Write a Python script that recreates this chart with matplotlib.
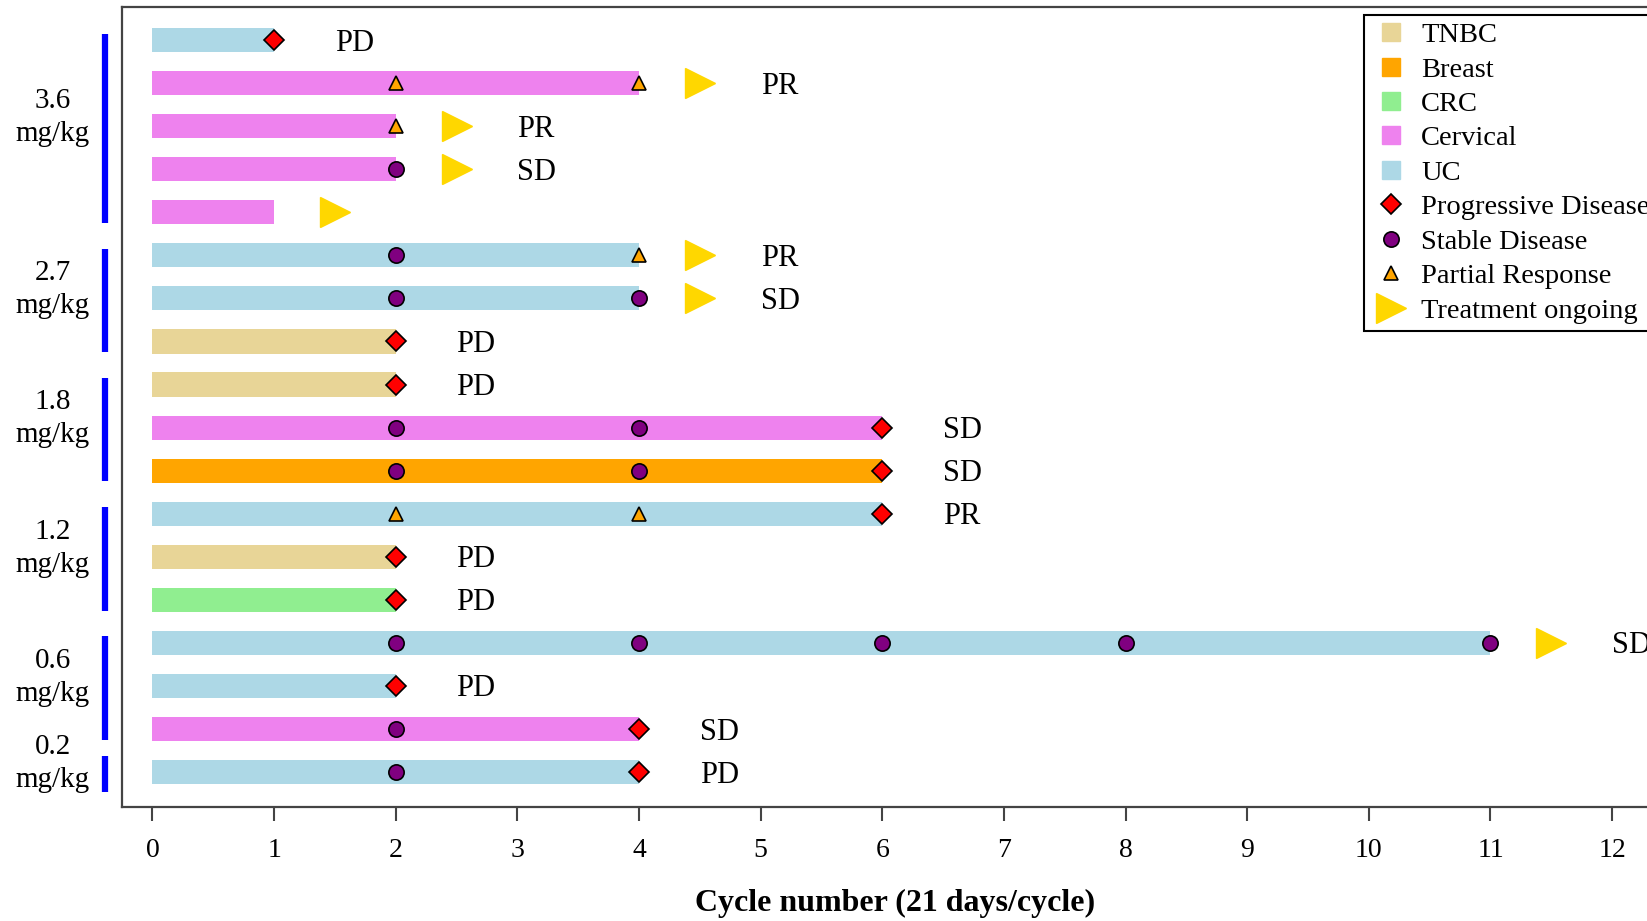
import matplotlib
matplotlib.use("Agg")
import matplotlib.pyplot as plt
from matplotlib.lines import Line2D

plt.rcParams['font.family'] = ['Liberation Serif', 'DejaVu Serif']

# one row per patient, top to bottom
cancer = ['UC', 'Cervical', 'Cervical', 'Cervical', 'Cervical', 'UC', 'UC', 'TNBC', 'TNBC',
          'Cervical', 'Breast', 'UC', 'TNBC', 'CRC', 'UC', 'UC', 'Cervical', 'UC']
cycles = [1, 4, 2, 2, 1, 4, 4, 2, 2, 6, 6, 6, 2, 2, 11, 2, 4, 4]
pd_at = [[1], [], [], [], [], [], [], [2], [2], [6], [6], [6], [2], [2], [], [2], [4], [4]]
sd_at = [[], [], [], [2], [], [2], [2, 4], [], [], [2, 4], [2, 4], [], [], [],
         [2, 4, 6, 8, 11], [], [2], [2]]
pr_at = [[], [2, 4], [2], [], [], [4], [], [], [], [], [], [2, 4], [], [], [], [], [], []]
ongoing = [False, True, True, True, True, True, True, False, False, False, False, False,
           False, False, True, False, False, False]
best = ['PD', 'PR', 'PR', 'SD', '', 'PR', 'SD', 'PD', 'PD', 'SD', 'SD', 'PR', 'PD', 'PD',
        'SD', 'PD', 'SD', 'PD']

dose_labels = ['3.6', '2.7', '1.8', '1.2', '0.6', '0.2']
dose_sizes = [5, 3, 3, 3, 3, 1]

cancer_types = ['TNBC', 'Breast', 'CRC', 'Cervical', 'UC']
cancer_colors = {'TNBC': '#E8D597', 'Breast': '#FFA500', 'CRC': '#90EE90',
                 'Cervical': '#EE82EE', 'UC': '#ADD8E6'}

fig = plt.figure(figsize=(16.47, 9.21), dpi=100)
ax = fig.add_axes([0.0741, 0.1238, 0.9387, 0.8686])

rows = list(range(1, len(cycles) + 1))
ax.barh(rows, cycles, left=0, height=0.56,
        color=[cancer_colors[c] for c in cancer], zorder=2)

for r, end in zip(rows, cycles):
    i = r - 1
    for x in sd_at[i]:
        ax.plot(x, r, 'o', ms=11, mfc='#800080', mec='black', mew=1.2, zorder=4)
    for x in pr_at[i]:
        ax.plot(x, r, '^', ms=10, mfc='#FFA500', mec='black', mew=1.2, zorder=4)
    for x in pd_at[i]:
        ax.plot(x, r, 'D', ms=10, mfc='red', mec='black', mew=1.2, zorder=5)
    if ongoing[i]:
        ax.plot(end + 0.5, r, '>', ms=22, mfc='#FFD700', mec='#FFD700', zorder=4)
        tx = end + 1.0
    else:
        tx = end + 0.5
    if best[i]:
        ax.text(tx, r + 0.07, best[i], fontsize=22, ha='left', va='center')

# dose level brackets on the left
start = 1
for lab, n in zip(dose_labels, dose_sizes):
    stop = start + n - 1
    mid = (start + stop) / 2
    half = max((n - 1) / 2 + 0.2, 0.42)
    ax.plot([-0.39, -0.39], [mid - half + 0.05, mid + half + 0.05], color='blue', lw=4.5,
            solid_capstyle='butt', clip_on=False)
    ax.text(-0.82, mid - 0.2, lab + '\nmg/kg', fontsize=21, ha='center', va='center',
            linespacing=1.35)
    start = stop + 1

ax.set_xlim(-0.25, 12.46)
ax.set_ylim(18.81, 0.234)
ax.set_xticks(range(0, 13))
ax.set_yticks([])
ax.tick_params(axis='x', labelsize=20, length=10, width=1.5, color='#444444', pad=12)
for s in ax.spines.values():
    s.set_color('#444444')
    s.set_linewidth(1.6)
ax.set_xlabel('Cycle number (21 days/cycle)', fontsize=23, fontweight='bold', labelpad=19)

handles = [Line2D([], [], ls='none', marker='s', ms=13, mfc=cancer_colors[c],
                  mec=cancer_colors[c]) for c in cancer_types]
handles += [
    Line2D([], [], ls='none', marker='D', ms=10, mfc='red', mec='black', mew=1.2),
    Line2D([], [], ls='none', marker='o', ms=11, mfc='#800080', mec='black', mew=1.2),
    Line2D([], [], ls='none', marker='^', ms=10, mfc='#FFA500', mec='black', mew=1.2),
    Line2D([], [], ls='none', marker='>', ms=22, mfc='#FFD700', mec='#FFD700'),
]
labels = cancer_types + ['Progressive Disease', 'Stable Disease', 'Partial Response',
                         'Treatment ongoing']
leg = ax.legend(handles, labels, loc='upper left', bbox_to_anchor=(0.8034, 0.99),
                borderaxespad=0, fontsize=20.5, frameon=True, fancybox=False,
                edgecolor='black', framealpha=1, handlelength=1.4, handletextpad=0.35,
                borderpad=0.25, labelspacing=0.3)
leg.get_frame().set_linewidth(1.5)

fig.savefig('out.png', dpi=100)
